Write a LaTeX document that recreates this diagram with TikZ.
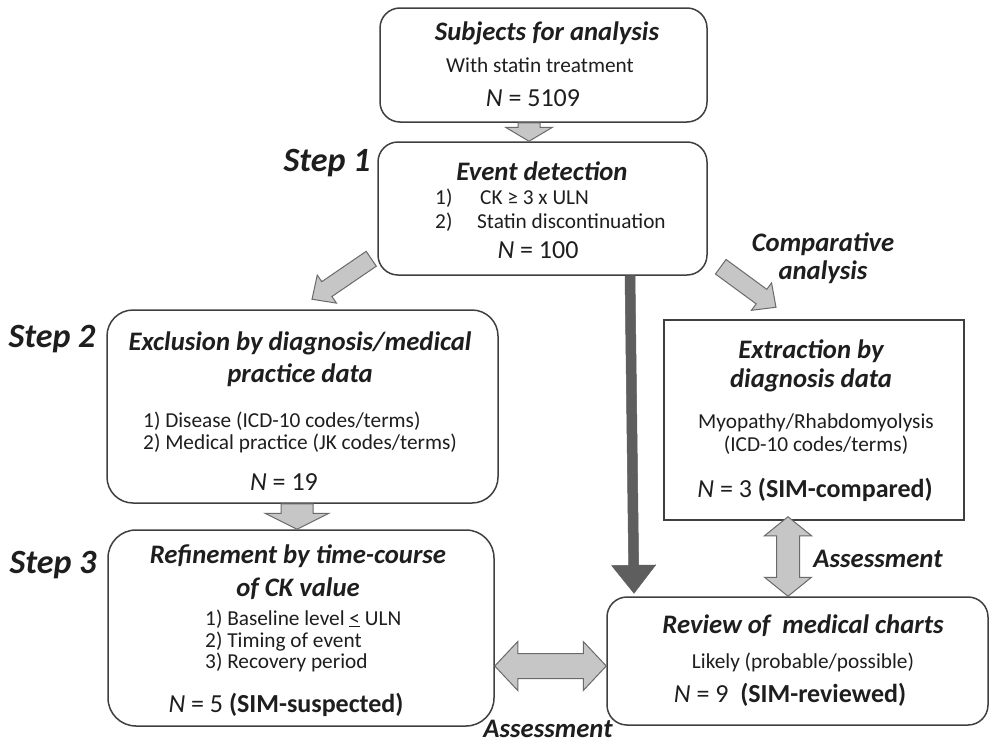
\documentclass[tikz,border=0pt]{standalone}
\usepackage{fontspec}
\setmainfont{Carlito}
\usetikzlibrary{calc}
\definecolor{boxline}{HTML}{3F3F3F}
\definecolor{arrfill}{HTML}{C6C6C6}
\definecolor{arrline}{HTML}{6A6A6A}
\definecolor{darkarr}{HTML}{5E5E5E}
\definecolor{txt}{HTML}{1E1E1E}
% single block arrow: tail, tip, shaft half width, head half width, head length, style
\newcommand\blockarrowone[6]{%
  \coordinate (sac) at ($(#2)!#5!(#1)$);
  \draw[#6] ($(#1)!#3!90:(#2)$) -- ($(sac)!#3!90:(#2)$) -- ($(sac)!#4!90:(#2)$) -- (#2)
    -- ($(sac)!#4!-90:(#2)$) -- ($(sac)!#3!-90:(#2)$) -- ($(#1)!#3!-90:(#2)$) -- cycle;}
% double block arrow
\newcommand\blockarrowtwo[6]{%
  \coordinate (daA) at ($(#1)!#5!(#2)$);
  \coordinate (daB) at ($(#2)!#5!(#1)$);
  \draw[#6] (#1) -- ($(daA)!#4!90:(#2)$) -- ($(daA)!#3!90:(#2)$) -- ($(daB)!#3!-90:(#1)$)
    -- ($(daB)!#4!-90:(#1)$) -- (#2) -- ($(daB)!#4!90:(#1)$) -- ($(daB)!#3!90:(#1)$)
    -- ($(daA)!#3!-90:(#2)$) -- ($(daA)!#4!-90:(#2)$) -- cycle;}
\begin{document}
\begin{tikzpicture}[x=1pt,y=-1pt,
  rbox/.style={draw=boxline, line width=1.5pt, fill=white, inner sep=0pt},
  ttl/.style={font=\fontsize{26.7}{30}\selectfont\bfseries\itshape, anchor=base, inner sep=0pt, text=txt},
  nline/.style={font=\fontsize{26}{30}\selectfont, anchor=base, inner sep=0pt, text=txt},
  body/.style={font=\fontsize{21.3}{24}\selectfont, anchor=base, inner sep=0pt, text=txt},
  bodyw/.style={body, anchor=base west},
  stp/.style={font=\fontsize{34}{40}\selectfont\bfseries\itshape, anchor=base, inner sep=0pt, text=txt},
  gblock/.style={fill=arrfill, draw=arrline, line width=1pt, line join=miter},
  dblock/.style={fill=darkarr, draw=darkarr, line width=0.5pt, line join=miter}]
\useasboundingbox (0,0) rectangle (992,744);
\fill[white] (0,0) rectangle (992,744);

% boxes
\node[rbox, rounded corners=20pt, minimum width=327pt, minimum height=114pt] (b1) at (543.5,65) {};
\node[rbox, rounded corners=20pt, minimum width=329pt, minimum height=133pt] (b2) at (542.5,208.5) {};
\node[rbox, rounded corners=26pt, minimum width=391pt, minimum height=193pt] (b3) at (302.5,406.5) {};
\node[rbox, rounded corners=28pt, minimum width=386pt, minimum height=196pt] (b4) at (301,628) {};
\node[rbox, minimum width=300pt, minimum height=200pt] (b5) at (814,420) {};
\node[rbox, rounded corners=20pt, minimum width=381pt, minimum height=128pt] (b6) at (797.5,661) {};

% box 1 text
\node[ttl] (t1a) at (547,40) {Subjects for analysis};
\node[body] (t1b) at (540,72) {With statin treatment};
\node[nline] (t1c) at (533,106) {\textit{N} = 5109};
% box 2 text
\node[ttl] (t2a) at (542,180) {Event detection};
\node[bodyw] (t2b) at (435,204) {1)};
\node[bodyw] (t2c) at (480,204) {CK ≥ 3 x ULN};
\node[bodyw] (t2d) at (435,228) {2)};
\node[bodyw] (t2e) at (477,228) {Statin discontinuation};
\node[nline] (t2f) at (538,258) {\textit{N} = 100};
% box 3 text
\node[ttl] (t3a) at (300,350) {Exclusion by diagnosis/medical};
\node[ttl] (t3b) at (300,382) {practice data};
\node[bodyw] (t3c) at (143,427) {1) Disease (ICD-10 codes/terms)};
\node[bodyw] (t3d) at (143,449) {2) Medical practice (JK codes/terms)};
\node[nline] (t3e) at (284,490) {\textit{N} = 19};
% box 4 text
\node[ttl] (t4a) at (298,563) {Refinement by time-course};
\node[ttl] (t4b) at (298,596) {of CK value};
\node[bodyw] (t4c) at (205,625) {1) Baseline level \underline{<} ULN};
\node[bodyw] (t4d) at (205,647) {2) Timing of event};
\node[bodyw] (t4e) at (205,668) {3) Recovery period};
\node[nline] (t4f) at (286,712) {\textit{N} = 5 \textbf{(SIM-suspected)}};
% box 5 text
\node[ttl] (t5a) at (811,358) {Extraction by};
\node[ttl] (t5b) at (811,387) {diagnosis data};
\node[body] (t5c) at (816,428) {Myopathy/Rhabdomyolysis};
\node[body] (t5d) at (816,451) {(ICD-10 codes/terms)};
\node[nline] (t5e) at (815,497) {\textit{N} = 3 \textbf{(SIM-compared)}};
% box 6 text
\node[ttl] (t6a) at (803,633) {Review of~ medical charts};
\node[body] (t6b) at (803,668) {Likely (probable/possible)};
\node[nline] (t6c) at (790,702) {\textit{N} = 9~ \textbf{(SIM-reviewed)}};

% step labels and side labels
\node[stp] (s1) at (327,171) {Step 1};
\node[stp] (s2) at (52,347) {Step 2};
\node[stp] (s3) at (53,573) {Step 3};
\node[ttl] (ca1) at (823,251) {Comparative};
\node[ttl] (ca2) at (823,279) {analysis};
\node[ttl] (as1) at (878,567) {Assessment};
\node[ttl] (as2) at (548,737) {Assessment};

% arrows
\coordinate (a1s) at ([xshift=-14.5pt]b1.south);
\coordinate (a1e) at (a1s |- b2.north);
\blockarrowone{a1s}{a1e}{11pt}{23.5pt}{14pt}{gblock}

\coordinate (a2s) at ([xshift=-6pt,yshift=17pt]b2.south west);
\coordinate (a2e) at ([xshift=9.5pt,yshift=10pt]b3.north);
\blockarrowone{a2s}{a2e}{9pt}{17pt}{18pt}{gblock}

\coordinate (a3s) at ([xshift=13pt,yshift=9pt]b2.south east);
\coordinate (a3e) at ([xshift=-38pt,yshift=12pt]b5.north);
\blockarrowone{a3s}{a3e}{9pt}{17pt}{18pt}{gblock}

\coordinate (a4s) at ([xshift=87.5pt]b2.south);
\coordinate (a4e) at ([xshift=-163.5pt,yshift=3pt]b6.north);
\blockarrowone{a4s}{a4e}{5pt}{22pt}{28pt}{dblock}

\coordinate (a5s) at ([xshift=-5.5pt]b3.south);
\coordinate (a5e) at (a5s |- b4.north);
\blockarrowone{a5s}{a5e}{16pt}{32pt}{16pt}{gblock}

\coordinate (a6s) at ([yshift=-38pt]b4.east);
\coordinate (a6e) at (a6s -| b6.west);
\blockarrowtwo{a6s}{a6e}{12.5pt}{24.5pt}{23pt}{gblock}

\coordinate (a7s) at ([xshift=-26pt,yshift=4pt]b5.south);
\coordinate (a7e) at (a7s |- b6.north);
\blockarrowtwo{a7s}{a7e}{11.5pt}{23.5pt}{19pt}{gblock}
\end{tikzpicture}
\end{document}
